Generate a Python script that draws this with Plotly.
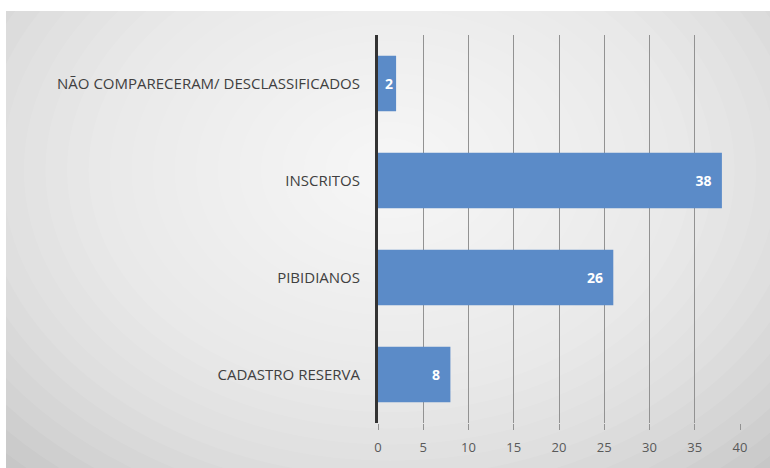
import plotly.graph_objects as go

# Categories (top to bottom) and their counts
categorias = ["NÃO COMPARECERAM/ DESCLASSIFICADOS", "INSCRITOS", "PIBIDIANOS", "CADASTRO RESERVA"]
valores = [2, 38, 26, 8]
x_ticks = [0, 5, 10, 15, 20, 25, 30, 35, 40]

W, H = 770, 468
L, R, T, B = 378, 30, 35, 45

# Value labels sit a little in from the bar end (the tiny bar keeps its label centred)
rotulos = [f"{v}\u00a0\u00a0" if v > 5 else str(v) for v in valores]

fig = go.Figure(go.Bar(
    y=categorias,
    x=valores,
    orientation="h",
    width=0.57,
    marker=dict(color="#5b8bc8", line=dict(width=0)),
    text=rotulos,
    textposition="inside",
    insidetextanchor="end",
    textfont=dict(color="white", size=14, family="Open Sans", weight="bold"),
    constraintext="none",
    cliponaxis=False,
))


def px_x(p):
    return (p - L) / (W - L - R)


def px_y(p):
    return 1 - (p - T) / (H - T - B)


shapes = []
# Gray card behind the chart
shapes.append(dict(type="rect", xref="x domain", yref="y domain",
                   x0=px_x(6), x1=px_x(770), y0=px_y(468), y1=px_y(11),
                   fillcolor="#c2c2c2", line=dict(width=0), layer="below"))
# Soft radial light: stacked translucent white ellipses
cx, cy = 390, 170
n = 26
for i in range(n):
    f = 1 - i / n
    rx, ry = 560 * f, 420 * f
    shapes.append(dict(type="circle", xref="x domain", yref="y domain",
                       x0=px_x(cx - rx), x1=px_x(cx + rx),
                       y0=px_y(cy + ry), y1=px_y(cy - ry),
                       fillcolor="rgba(255,255,255,0.085)", line=dict(width=0),
                       layer="below"))

fig.update_layout(
    width=W, height=H,
    margin=dict(l=L, r=R, t=T, b=B),
    paper_bgcolor="white",
    plot_bgcolor="rgba(0,0,0,0)",
    showlegend=False,
    bargap=0.43,
    shapes=shapes,
    font=dict(family="Open Sans", color="#404040"),
)
fig.update_xaxes(
    range=[0, 40],
    tickvals=x_ticks,
    ticktext=[str(t) for t in x_ticks],
    showgrid=True, gridcolor="#929292", gridwidth=1,
    zeroline=False, showline=False,
    ticks="outside", ticklen=6, tickcolor="#929292",
    ticklabelstandoff=6,
    tickfont=dict(size=13, color="#595959"),
)
fig.update_yaxes(
    categoryorder="array", categoryarray=categorias,
    autorange="reversed",
    showgrid=False, zeroline=False,
    showline=True, linecolor="#333333", linewidth=3,
    ticks="", ticklabelstandoff=12,
    tickfont=dict(size=15, color="#404040"),
)

fig.write_html("out.html")
